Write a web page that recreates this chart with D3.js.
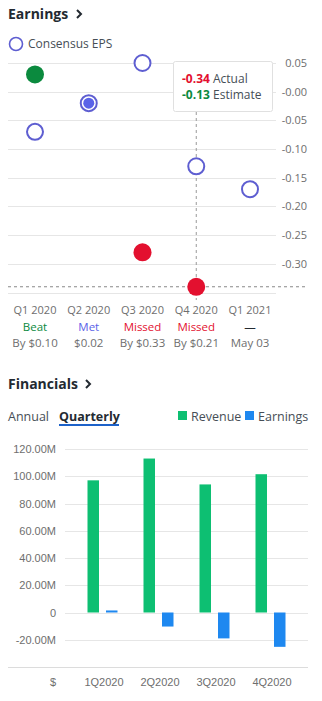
<!DOCTYPE html>
<html><head><meta charset="utf-8">
<script src="https://cdn.jsdelivr.net/npm/d3@7"></script>
<style>
body{margin:0;background:#fff;}
svg{display:block;font-family:"Open Sans",sans-serif;}
</style></head><body>
<script>
// ---- Earnings data ----
const quarters = ["Q1 2020","Q2 2020","Q3 2020","Q4 2020","Q1 2021"];
const estimateEPS = [-0.07,-0.02,0.05,-0.13,-0.17];
const actualEPS = [0.03,-0.02,-0.28,-0.34,null];
const resultLabels = ["Beat","Met","Missed","Missed","—"];
const resultDetails = ["By $0.10","$0.02","By $0.33","By $0.21","May 03"];
const epsTicks = [0.05,0.00,-0.05,-0.10,-0.15,-0.20,-0.25,-0.30];
const epsTickLabels = ["0.05","-0.00","-0.05","-0.10","-0.15","-0.20","-0.25","-0.30"];

// ---- Financials data ----
const finQuarters = ["1Q2020","2Q2020","3Q2020","4Q2020"];
const revenue = [97e6,113e6,94e6,101.5e6];
const earnings = [1.5e6,-10.3e6,-19e6,-25.2e6];
const finTicks = [120e6,100e6,80e6,60e6,40e6,20e6,0,-20e6];
const finTickLabels = ["120.00M","100.00M","80.00M","60.00M","40.00M","20.00M","0","-20.00M"];

const W=322,H=701;
const svg=d3.select("body").append("svg").attr("width",W).attr("height",H);

const C={beat:"#0b8a3e",met:"#5a63e8",miss:"#e3102f",est:"#5e5ed1",grid:"#e6e6e6",lab:"#6e6e6e",text:"#232a31",rev:"#0dbf72",earn:"#1e88f0"};
const resColor=[C.beat,C.met,C.miss,C.miss,C.text];

// Earnings title
svg.append("text").attr("x",8).attr("y",19).attr("font-size",14).attr("font-weight",700).attr("fill",C.text).text("Earnings");
svg.append("path").attr("d","M77,10 l4,4 l-4,4").attr("fill","none").attr("stroke",C.text).attr("stroke-width",2);

// legend
svg.append("circle").attr("cx",16).attr("cy",44).attr("r",6.5).attr("fill","none").attr("stroke",C.est).attr("stroke-width",1.6);
svg.append("text").attr("x",28).attr("y",48).attr("font-size",12).attr("fill","#464e56").text("Consensus EPS");

const y=d3.scaleLinear().domain([0.05,-0.35]).range([63,292.5]);
const x=d3.scalePoint().domain(quarters).range([35,250]);

// gridlines
svg.selectAll("line.grid").data(epsTicks.concat([-0.35])).join("line")
 .attr("x1",8).attr("x2",276).attr("y1",d=>Math.round(y(d))+0.5).attr("y2",d=>Math.round(y(d))+0.5)
 .attr("stroke",C.grid).attr("stroke-width",1);
const yAxis=d3.axisRight(y).tickValues(epsTicks).tickFormat((d,i)=>epsTickLabels[i]).tickSize(0).tickPadding(0);
const ya=svg.append("g").attr("transform","translate(307,0)").call(yAxis);
ya.select(".domain").remove();
ya.selectAll("text").attr("text-anchor","end").attr("font-size",11).attr("fill",C.lab).attr("font-family","Open Sans, sans-serif");

// dashed horizontal line at latest actual
svg.append("line").attr("x1",8).attr("x2",307).attr("y1",y(-0.34)).attr("y2",y(-0.34))
 .attr("stroke","#888").attr("stroke-dasharray","3,3").attr("stroke-width",1);
// vertical dashed line
svg.append("line").attr("x1",x("Q4 2020")).attr("x2",x("Q4 2020")).attr("y1",112).attr("y2",300)
 .attr("stroke","#999").attr("stroke-dasharray","3,3").attr("stroke-width",1);

// estimate circles
svg.selectAll("circle.est").data(quarters).join("circle").attr("class","est")
 .attr("cx",d=>x(d)).attr("cy",(d,i)=>y(estimateEPS[i])).attr("r",8)
 .attr("fill","#fff").attr("stroke",C.est).attr("stroke-width",2);
// actual circles
quarters.forEach((q,i)=>{
  const v=actualEPS[i]; if(v===null) return;
  if(resultLabels[i]==="Met"){
    svg.append("circle").attr("cx",x(q)).attr("cy",y(v)).attr("r",5.5).attr("fill",C.met);
  } else {
    svg.append("circle").attr("cx",x(q)).attr("cy",y(v)).attr("r",9).attr("fill",resColor[i]);
  }
});

// tooltip
svg.append("rect").attr("x",173.5).attr("y",61.5).attr("width",99).attr("height",50).attr("rx",2)
 .attr("fill","#fff").attr("stroke","#e0e0e0");
const tt=svg.append("text").attr("x",182).attr("y",83).attr("font-size",12);
tt.append("tspan").attr("font-weight",700).attr("fill",C.miss).text(actualEPS[3].toFixed(2));
tt.append("tspan").attr("fill","#464e56").text(" Actual");
const tt2=svg.append("text").attr("x",182).attr("y",99).attr("font-size",12);
tt2.append("tspan").attr("font-weight",700).attr("fill",C.beat).text(estimateEPS[3].toFixed(2));
tt2.append("tspan").attr("fill","#464e56").text(" Estimate");

// x labels
quarters.forEach((q,i)=>{
  svg.append("text").attr("x",x(q)).attr("y",314).attr("text-anchor","middle").attr("font-size",11).attr("fill",C.lab).text(q);
  svg.append("text").attr("x",x(q)).attr("y",331).attr("text-anchor","middle").attr("font-size",11.5).attr("fill",resColor[i]).text(resultLabels[i]);
  svg.append("text").attr("x",x(q)).attr("y",347).attr("text-anchor","middle").attr("font-size",11.5).attr("fill",C.lab).text(resultDetails[i]);
});

// ---- Financials ----
svg.append("text").attr("x",8).attr("y",389).attr("font-size",14).attr("font-weight",700).attr("fill",C.text).text("Financials");
svg.append("path").attr("d","M86,380 l4,4 l-4,4").attr("fill","none").attr("stroke",C.text).attr("stroke-width",2);
svg.append("text").attr("x",8).attr("y",421).attr("font-size",12.5).attr("fill","#464e56").text("Annual");
svg.append("text").attr("x",59).attr("y",421).attr("font-size",12.5).attr("font-weight",700).attr("fill",C.text).text("Quarterly");
svg.append("rect").attr("x",59).attr("y",424).attr("width",60).attr("height",2).attr("fill","#1d62c9");
// legend
svg.append("rect").attr("x",178).attr("y",411).attr("width",9).attr("height",9).attr("fill",C.rev);
svg.append("text").attr("x",191).attr("y",421).attr("font-size",12.5).attr("fill","#464e56").text("Revenue");
svg.append("rect").attr("x",245).attr("y",411).attr("width",9).attr("height",9).attr("fill",C.earn);
svg.append("text").attr("x",258).attr("y",421).attr("font-size",12.5).attr("fill","#464e56").text("Earnings");

const fy=d3.scaleLinear().domain([-40e6,120e6]).range([667,449]);
const fx=d3.scaleBand().domain(finQuarters).range([74,298]).paddingInner(0).paddingOuter(0);
svg.selectAll("line.fgrid").data(finTicks).join("line")
 .attr("x1",65).attr("x2",308).attr("y1",d=>Math.round(fy(d))+0.5).attr("y2",d=>Math.round(fy(d))+0.5)
 .attr("stroke",C.grid);
svg.append("line").attr("x1",8).attr("x2",308).attr("y1",Math.round(fy(-40e6))+0.5).attr("y2",Math.round(fy(-40e6))+0.5).attr("stroke","#dcdcdc");
const fya=svg.append("g").attr("transform","translate(56,0)")
 .call(d3.axisLeft(fy).tickValues(finTicks).tickFormat((d,i)=>finTickLabels[i]).tickSize(0).tickPadding(0));
fya.select(".domain").remove();
fya.selectAll("text").attr("font-size",11).attr("fill",C.lab).attr("font-family","Liberation Sans, Arial, sans-serif");

const bw=11.5;
svg.selectAll("rect.rev").data(finQuarters).join("rect")
 .attr("x",d=>fx(d)+fx.bandwidth()/2-bw-3).attr("width",bw)
 .attr("y",(d,i)=>fy(Math.max(0,revenue[i]))).attr("height",(d,i)=>Math.abs(fy(revenue[i])-fy(0)))
 .attr("fill",C.rev);
svg.selectAll("rect.earn").data(finQuarters).join("rect")
 .attr("x",d=>fx(d)+fx.bandwidth()/2+4).attr("width",bw)
 .attr("y",(d,i)=>fy(Math.max(0,earnings[i]))).attr("height",(d,i)=>Math.abs(fy(earnings[i])-fy(0)))
 .attr("fill",C.earn);

svg.selectAll("text.fx").data(finQuarters).join("text")
 .attr("x",d=>fx(d)+fx.bandwidth()/2+2).attr("y",686).attr("text-anchor","middle")
 .attr("font-size",11).attr("fill",C.lab).attr("font-family","Liberation Sans, Arial, sans-serif").text(d=>d);
svg.append("text").attr("x",56).attr("y",686).attr("text-anchor","end").attr("font-size",11).attr("fill",C.lab)
 .attr("font-family","Liberation Sans, Arial, sans-serif").text("$");
</script>
</body></html>
